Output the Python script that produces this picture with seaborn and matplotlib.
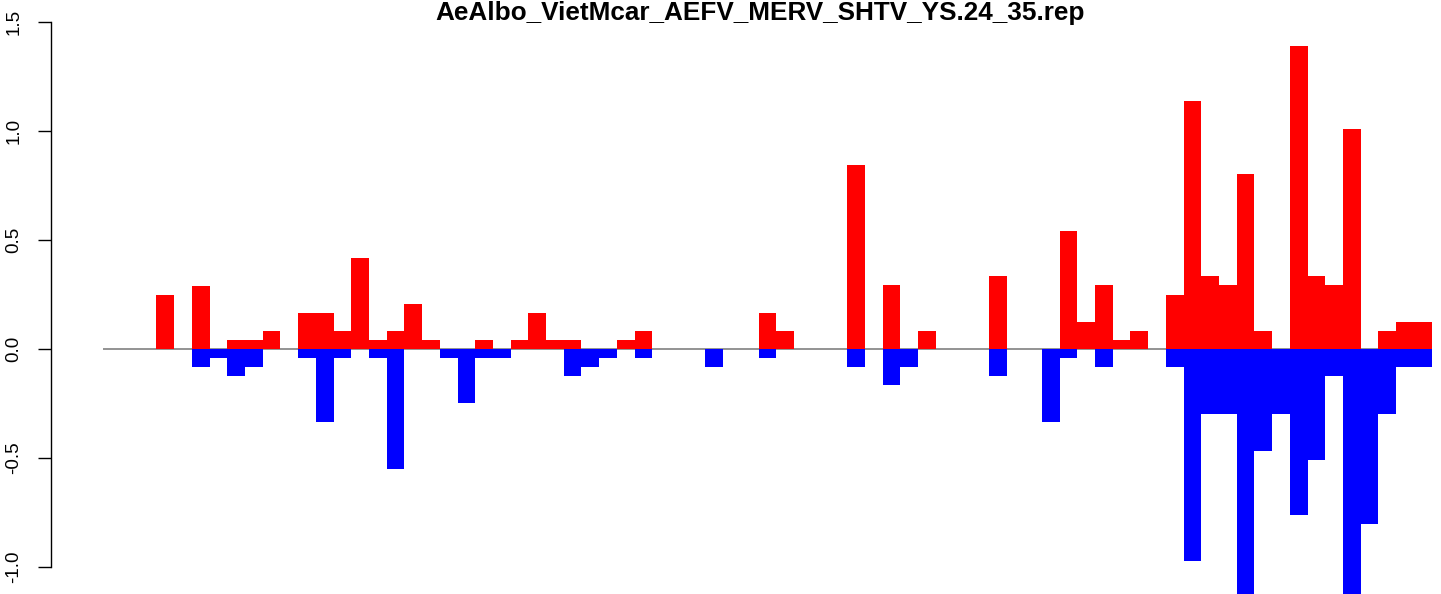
import pandas as pd
import seaborn as sns
import matplotlib
matplotlib.use('Agg')
import matplotlib.pyplot as plt

title = 'AeAlbo_VietMcar_AEFV_MERV_SHTV_YS.24_35.rep'
positions = list(range(75))

# red bars (above zero)
up = [0, 0, 0, 0.25, 0, 0.29, 0, 0.042, 0.042, 0.083,
      0, 0.167, 0.167, 0.083, 0.417, 0.042, 0.083, 0.208, 0.042, 0,
      0, 0.042, 0, 0.042, 0.167, 0.042, 0.042, 0, 0, 0.042,
      0.083, 0, 0, 0, 0, 0, 0, 0.167, 0.083, 0,
      0, 0, 0.845, 0, 0.294, 0, 0.083, 0, 0, 0,
      0.333, 0, 0, 0, 0.542, 0.125, 0.294, 0.042, 0.083, 0,
      0.25, 1.138, 0.333, 0.294, 0.803, 0.083, 0, 1.391, 0.333, 0.294,
      1.01, 0, 0.083, 0.125, 0.125]

# blue bars (below zero)
down = [0, 0, 0, 0, 0, -0.083, -0.042, -0.125, -0.083, 0,
        0, -0.042, -0.333, -0.042, 0, -0.042, -0.55, 0, 0, -0.042,
        -0.25, -0.042, -0.042, 0, 0, 0, -0.125, -0.083, -0.042, 0,
        -0.042, 0, 0, 0, -0.083, 0, 0, -0.042, 0, 0,
        0, 0, -0.083, 0, -0.167, -0.083, 0, 0, 0, 0,
        -0.125, 0, 0, -0.333, -0.042, 0, -0.083, 0, 0, 0,
        -0.083, -0.972, -0.297, -0.297, -1.17, -0.467, -0.297, -0.76, -0.508, -0.125,
        -1.17, -0.802, -0.297, -0.083, -0.083]

yticks = [-1.0, -0.5, 0.0, 0.5, 1.0, 1.5]

df = pd.DataFrame({'pos': positions, 'up': up, 'down': down})

sns.set_theme(style='white')
plt.rcParams['font.family'] = ['Liberation Sans', 'DejaVu Sans']
plt.rcParams['text.color'] = 'black'
plt.rcParams['ytick.color'] = 'black'
plt.rcParams['axes.edgecolor'] = 'black'

W, H = 1441, 594
fig = plt.figure(figsize=(W / 100, H / 100), dpi=100)
# plot region runs past the right/bottom edges, as in the cropped original
ylo, yhi = -1.2, 1.55
top_px = 349 - 217.8 * yhi
bot_px = 349 - 217.8 * ylo
ax = fig.add_axes([50.7 / W, (H - bot_px) / H, (1484.7 - 50.7) / W, (bot_px - top_px) / H])

ax.hlines(0, -0.5, len(positions) - 0.5, color='gray', lw=1.2, zorder=0)
sns.barplot(data=df, x='pos', y='up', color='red', saturation=1, width=1,
            linewidth=0, errorbar=None, ax=ax, zorder=2)
sns.barplot(data=df, x='pos', y='down', color='blue', saturation=1, width=1,
            linewidth=0, errorbar=None, ax=ax, zorder=2)

ax.set_xlim(-3.47, 77.5)
ax.set_ylim(ylo, yhi)
ax.set_xlabel('')
ax.set_ylabel('')
ax.set_xticks([])

for s in ['top', 'right', 'bottom']:
    ax.spines[s].set_visible(False)
ax.spines['left'].set_bounds(-1.0, 1.5)
ax.spines['left'].set_linewidth(1.0)

ax.set_yticks(yticks)
ax.set_yticklabels([f'{v:.1f}' for v in yticks])
ax.tick_params(axis='y', left=True, length=9.4, width=1, pad=11, labelsize=13.5)
for lab in ax.get_yticklabels():
    lab.set_rotation(90)
    lab.set_va('center')

fig.text(760 / W, 1 - 20 / H, title, ha='center', va='baseline',
         fontsize=18.8, fontweight='bold')

fig.savefig('out.png', dpi=100)
